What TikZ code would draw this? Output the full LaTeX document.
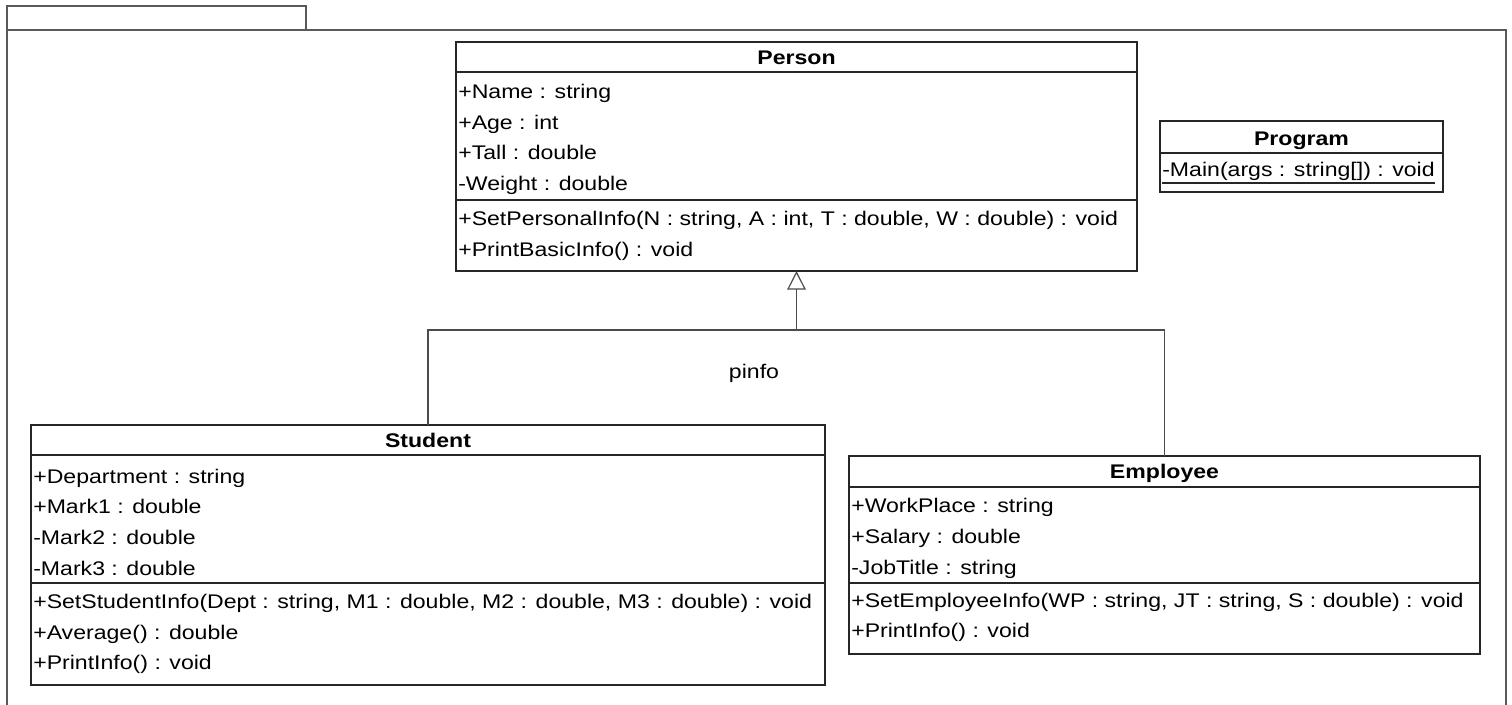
\documentclass[tikz,border=0pt]{standalone}
\usepackage{fontspec}
\setmainfont[FakeStretch=1.17]{Liberation Sans}
\usetikzlibrary{arrows.meta}
\begin{document}
\begin{tikzpicture}[x=0.75pt,y=-0.75pt,
  font=\fontsize{14.8}{17}\selectfont,
  frameline/.style={draw=black!65, line width=1pt},
  classbox/.style={draw=black!85, line width=0.9pt, inner sep=0pt, outer sep=0pt, anchor=north west, fill=white},
  sep/.style={draw=black!85, line width=0.9pt},
  member/.style={anchor=base west, inner sep=0pt},
  title/.style={anchor=base, inner sep=0pt, font=\fontsize{14.8}{17}\selectfont\bfseries},
  link/.style={draw=black!70, line width=0.9pt},
  generalization/.style={link, -{Triangle[open, length=14pt, width=14pt]}}]
\clip (0,0) rectangle (1512,704);
\fill[white] (0,0) rectangle (1512,704);

% package frame with its tab
\draw[frameline] (7,30) -- (7,6) -- (306,6) -- (306,30);
\draw[frameline] (7,720) -- (7,30) -- (1506,30) -- (1506,720);

% Person
\node[classbox, minimum width=510.75pt, minimum height=171.75pt] (person) at (456,42) {};
\draw[sep] (456,72) -- (1137,72);
\draw[sep] (456,200) -- (1137,200);
\node[title] (personT) at (796.5,64) {Person};
\node[member] (p1) at (458,98.3) {+Name : string};
\node[member] (p2) at (458,129) {+Age : int};
\node[member] (p3) at (458,159.7) {+Tall : double};
\node[member] (p4) at (458,190.4) {-Weight : double};
\node[member] (p5) at (458,225.5) {+SetPersonalInfo(N : string, A : int, T : double, W : double) : void};
\node[member] (p6) at (458,256.2) {+PrintBasicInfo() : void};

% Program
\node[classbox, minimum width=212.25pt, minimum height=53.25pt] (program) at (1160,121) {};
\draw[sep] (1160,153) -- (1443,153);
\node[title] (programT) at (1301.5,145) {Program};
\node[member] (m1) at (1162,176) {-Main(args : string[]) : void};
\draw[sep, line width=0.8pt] ([yshift=-5.25pt]m1.base west) -- ([yshift=-5.25pt]m1.base east);

% Student
\node[classbox, minimum width=595.5pt, minimum height=195pt] (student) at (31,425) {};
\draw[sep] (31,455) -- (825,455);
\draw[sep] (31,583) -- (825,583);
\node[title] (studentT) at (428,447) {Student};
\node[member] (s1) at (33,483) {+Department : string};
\node[member] (s2) at (33,513.7) {+Mark1 : double};
\node[member] (s3) at (33,544.4) {-Mark2 : double};
\node[member] (s4) at (33,575.1) {-Mark3 : double};
\node[member] (s5) at (33,608.5) {+SetStudentInfo(Dept : string, M1 : double, M2 : double, M3 : double) : void};
\node[member] (s6) at (33,639.2) {+Average() : double};
\node[member] (s7) at (33,669.9) {+PrintInfo() : void};

% Employee
\node[classbox, minimum width=473.25pt, minimum height=148.5pt] (employee) at (849,456) {};
\draw[sep] (849,487) -- (1480,487);
\draw[sep] (849,583) -- (1480,583);
\node[title] (employeeT) at (1164.5,478) {Employee};
\node[member] (e1) at (851,512.7) {+WorkPlace : string};
\node[member] (e2) at (851,543.4) {+Salary : double};
\node[member] (e3) at (851,574.1) {-JobTitle : string};
\node[member] (e4) at (851,607) {+SetEmployeeInfo(WP : string, JT : string, S : double) : void};
\node[member] (e5) at (851,637.7) {+PrintInfo() : void};

% inheritance
\coordinate (j) at (796.5,330);
\draw[link] (student.north) |- (j);
\draw[link] (employee.north) |- (j);
\draw[generalization] (j) -- (person.south);
\node[anchor=base, inner sep=0pt] (pinfo) at (754,378) {pinfo};
\end{tikzpicture}
\end{document}
